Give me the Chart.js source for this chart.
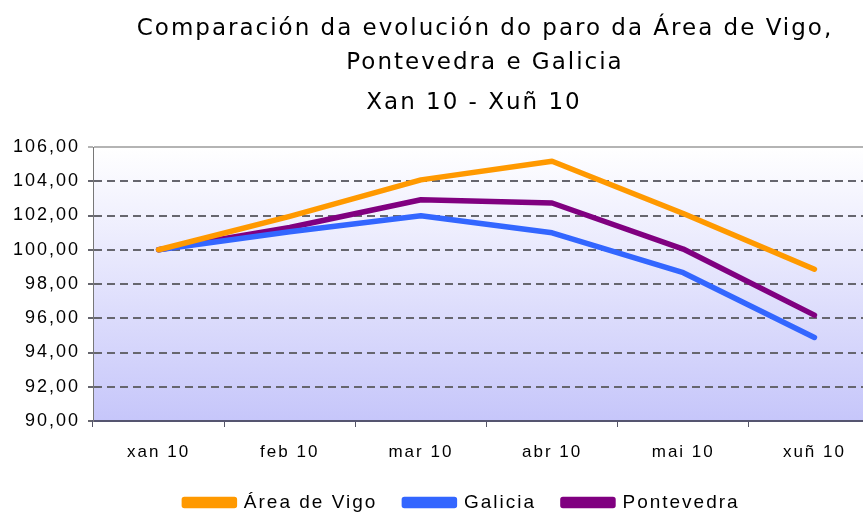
<!DOCTYPE html>
<html>
<head>
<meta charset="utf-8">
<script src="https://cdn.jsdelivr.net/npm/chart.js@4/dist/chart.umd.min.js"></script>
<style>
  html, body { margin: 0; padding: 0; background: #fff; overflow: hidden; }
  #wrap { width: 880px; height: 513px; }
</style>
</head>
<body>
<div id="wrap"><canvas id="chart"></canvas></div>
<script>
const months = ["xan 10", "feb 10", "mar 10", "abr 10", "mai 10", "xuñ 10"];
const vigo = [100.0, 101.95, 104.08, 105.17, 102.12, 98.86];
const galicia = [100.0, 101.05, 101.98, 100.99, 98.66, 94.88];
const pontevedra = [100.0, 101.3, 102.92, 102.73, 100.04, 96.18];
const yTicks = [90, 92, 94, 96, 98, 100, 102, 104, 106];

// fondo degradado do área de trazado + texto algo máis ancho
const plotBg = {
    id: "plotBg",
    beforeLayout(chart) {
        chart.ctx.letterSpacing = "2px";
    },
    afterLayout(chart) {
        // título e lenda van algo desprazados á dereita no orixinal
        chart.boxes.forEach(b => {
            if (!b.options) return;
            if (b.options.labels) {
                b.left += 22;
                b.right += 22;
            } else if (b.options.text !== undefined) {
                const isSub = b.options.text === "Xan 10 - Xuñ 10";
                b.left = isSub ? 68 : 90;
                b.right = 880;
            }
        });
    },
    beforeDraw(chart) {
        const { ctx, chartArea: a } = chart;
        ctx.letterSpacing = "2px";
        const g = ctx.createLinearGradient(0, a.top, 0, a.bottom);
        g.addColorStop(0, "#ffffff");
        g.addColorStop(1, "#c6c6fa");
        ctx.save();
        ctx.fillStyle = g;
        ctx.fillRect(a.left, a.top, a.right - a.left, a.bottom - a.top);
        ctx.restore();
    },
};

function serie(label, data, color) {
    return {
        label: label,
        data: data,
        borderColor: color,
        backgroundColor: color,
        borderWidth: 5.5,
        pointRadius: 0,
        tension: 0,
        borderCapStyle: "round",
        borderJoinStyle: "round",
    };
}

new Chart(document.getElementById("chart"), {
    type: "line",
    data: {
        labels: months,
        datasets: [
            serie("Área de Vigo", vigo, "#ff9900"),
            serie("Galicia", galicia, "#3366ff"),
            serie("Pontevedra", pontevedra, "#800080"),
        ],
    },
    plugins: [plotBg],
    options: {
        responsive: true,
        maintainAspectRatio: false,
        animation: false,
        layout: { padding: { left: 0, right: 0, top: 0, bottom: -9 } },
        scales: {
            x: {
                offset: true,
                afterFit(axis) {
                    axis.height = 45;
                },
                grid: {
                    offset: true,
                    drawOnChartArea: false,
                    drawTicks: true,
                    tickLength: 6,
                    color: "#555566",
                },
                border: { color: "#555570", width: 2 },
                ticks: {
                    color: "#000",
                    padding: 15,
                    font: { family: "Liberation Sans", size: 17 },
                },
            },
            y: {
                min: 90,
                max: 106,
                afterBuildTicks(axis) {
                    axis.ticks = yTicks.map(v => ({ value: v }));
                },
                afterFit(axis) {
                    axis.width = 93;
                },
                grid: {
                    color: ctx => (ctx.tick && ctx.tick.value === 106 ? "#b4b4b4" : "#66666e"),
                    lineWidth: 2,
                    tickLength: 5,
                },
                border: {
                    color: "#777777",
                    width: 1,
                    dash: ctx => (ctx.tick && ctx.tick.value === 106 ? [] : [8, 5]),
                },
                ticks: {
                    color: "#000",
                    padding: 8,
                    font: { family: "Liberation Sans", size: 18 },
                    callback: v => v.toFixed(2).replace(".", ","),
                },
            },
        },
        plugins: {
            title: {
                display: true,
                text: ["Comparación da evolución do paro da Área de Vigo,", "Pontevedra e Galicia"],
                color: "#000",
                font: { family: "DejaVu Sans", size: 23, weight: "normal", lineHeight: "34px" },
                padding: { top: 12, bottom: 8 },
            },
            subtitle: {
                display: true,
                text: "Xan 10 - Xuñ 10",
                color: "#000",
                font: { family: "DejaVu Sans", size: 23, weight: "normal", lineHeight: "30px" },
                padding: { top: 0, bottom: 29 },
            },
            legend: {
                position: "bottom",
                labels: {
                    color: "#000",
                    boxWidth: 50,
                    boxHeight: 6,
                    padding: 27,
                    font: { family: "Liberation Sans", size: 19 },
                },
            },
            tooltip: { enabled: false },
        },
    },
});
</script>
</body>
</html>
